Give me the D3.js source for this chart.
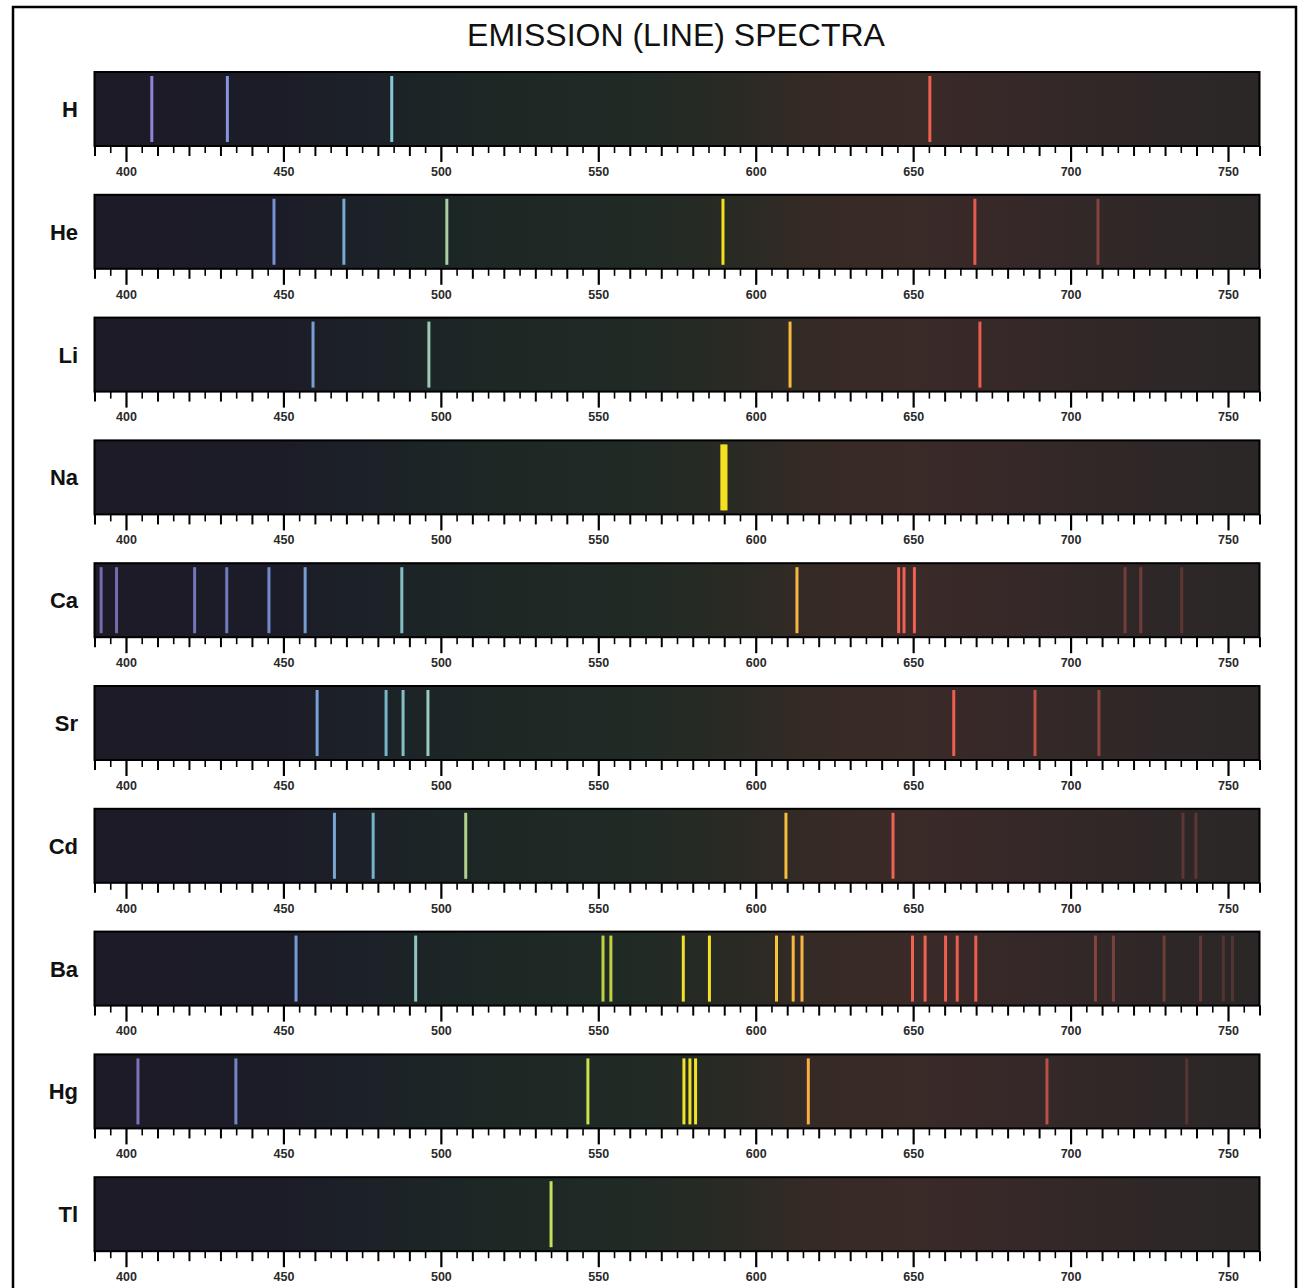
<!DOCTYPE html>
<html><head><meta charset="utf-8">
<script src="https://cdn.jsdelivr.net/npm/d3@7"></script>
<style>body{margin:0;background:#fff}</style>
</head><body><svg id="c" width="1299" height="1288"></svg>
<script>
// ---------- DATA ----------
const title = "EMISSION (LINE) SPECTRA";
const elements = ["H","He","Li","Na","Ca","Sr","Cd","Ba","Hg","Tl"];
const majorTicks = [400,450,500,550,600,650,700,750];
const domainNm = [390, 760];
// each line: [wavelength nm, relative brightness]
const H_lines  = [[408.2,1],[432.2,1],[484.4,1],[655.3,1]];
const He_lines = [[447.0,0.9],[469.2,0.9],[501.9,0.9],[589.6,1],[669.6,0.95],[708.7,0.55]];
const Li_lines = [[459.4,0.9],[496.2,0.9],[610.9,1],[671.2,1]];
const Na_lines = [[589.4,1],[590.4,1]];
const Ca_lines = [[392.1,0.8],[397.0,0.8],[421.8,0.8],[432.0,0.8],[445.4,0.85],[456.9,0.9],[487.6,0.9],
                  [613.1,1],[645.4,1],[647.1,1],[650.4,1],[717.3,0.45],[722.3,0.45],[735.3,0.35]];
const Sr_lines = [[460.7,0.9],[482.6,0.9],[488.0,0.9],[495.9,0.9],[662.9,1],[688.7,0.8],[709.0,0.6]];
const Cd_lines = [[466.2,0.9],[478.5,0.9],[507.9,0.9],[609.6,1],[643.6,1],[735.7,0.35],[739.8,0.35]];
const Ba_lines = [[454.0,0.9],[492.0,0.9],[551.5,0.9],[554.0,0.9],[577.0,1],[585.3,1],[606.6,1],[611.9,1],[614.7,1],
                  [649.8,1],[653.8,1],[660.3,1],[664.0,1],[669.9,1],[707.9,0.55],[713.6,0.5],[729.7,0.45],
                  [741.3,0.4],[748.5,0.3],[751.4,0.3]];
const Hg_lines = [[403.8,0.85],[434.9,0.85],[546.7,1],[577.2,1],[579.1,1],[580.9,1],[616.7,1],[692.5,0.8],[736.9,0.3]];
const Tl_lines = [[535.0,1]];
const spectra = [H_lines,He_lines,Li_lines,Na_lines,Ca_lines,Sr_lines,Cd_lines,Ba_lines,Hg_lines,Tl_lines];

// background tint of the photographic strip, by wavelength
const bgStops  = [390,450,480,520,560,595,620,650,690,730,760];
const bgColors = ["#1c1b27","#1c1c28","#1c2227","#1d2825","#202a25","#2a2a24","#362a26","#3a2a28","#352828","#2e2727","#2b2727"];

// ---------- DRAW ----------
const svg = d3.select("#c");
const W = 1299, H = 1288;
const x = d3.scaleLinear().domain(domainNm).range([94.5, 1259.5]);
const rowTop = i => 72 + i*122.8;
const bandH = 74;

// wavelength -> line colour
const lineColor = d3.scaleLinear()
  .domain([400,425,445,465,482,495,505,540,560,575,590,605,620,640,680,720,760])
  .range(["#9080d0","#8a8ee0","#7f9ee6","#84b4ea","#7ec6dc","#a8dcd0","#c4e4a0","#c8e050","#d8e440","#f0e42a","#f4e020","#f8c838","#f8a848","#f06452","#ec5a4c","#c05a50","#a85048"])
  .clamp(true);

const defs = svg.append("defs");
const grad = defs.append("linearGradient").attr("id","bg").attr("x1","0").attr("x2","1").attr("y1","0").attr("y2","0");
bgStops.forEach((s,k)=>{
  grad.append("stop").attr("offset",(x(s)-x(domainNm[0]))/(x(domainNm[1])-x(domainNm[0])))
      .attr("stop-color",bgColors[k]);
});

svg.append("rect").attr("width",W).attr("height",H).attr("fill","#fff");
svg.append("rect").attr("x",13).attr("y",7).attr("width",1283).attr("height",1300)
   .attr("fill","none").attr("stroke","#000").attr("stroke-width",2.5);

svg.append("text").attr("x",676).attr("y",46).attr("text-anchor","middle")
   .attr("font-family","Liberation Sans, Arial, sans-serif").attr("font-size",32)
   .attr("fill","#111").text(title);

elements.forEach((el,i)=>{
  const top = rowTop(i);
  const g = svg.append("g");
  g.append("rect").attr("x",x(domainNm[0])).attr("y",top)
   .attr("width",x(domainNm[1])-x(domainNm[0])).attr("height",bandH)
   .attr("fill","url(#bg)").attr("stroke","#000").attr("stroke-width",2);

  g.selectAll("line.sp").data(spectra[i]).join("line")
   .attr("class","sp")
   .attr("x1",d=>x(d[0])).attr("x2",d=>x(d[0]))
   .attr("y1",top+4).attr("y2",top+bandH-4)
   .attr("stroke",d=>lineColor(d[0]))
   .attr("stroke-opacity",d=>d[1])
   .attr("stroke-width",el==="Na"?4:3);

  g.append("text").attr("x",78).attr("y",top+bandH/2).attr("dy","0.36em")
   .attr("text-anchor","end").attr("font-family","Liberation Sans, Arial, sans-serif")
   .attr("font-weight","bold").attr("font-size",22).attr("fill","#111").text(el);

  const ay = top + bandH;
  const small = d3.range(395, 760, 10);
  const medium = d3.range(390, 761, 10).filter(v=>v%50!==0);
  const mk = (vals,size,pad,labels,sw)=>{
    const ax = d3.axisBottom(x).tickValues(vals).tickSize(size).tickPadding(pad)
      .tickSizeOuter(0).tickFormat(labels?d3.format("d"):"");
    const a = g.append("g").attr("transform",`translate(0,${ay})`).call(ax);
    a.select(".domain").remove();
    a.selectAll(".tick line").attr("stroke","#000").attr("stroke-width",sw);
    a.selectAll(".tick text").attr("font-family","Liberation Sans, Arial, sans-serif")
      .attr("font-weight","bold").attr("font-size",12.5).attr("fill","#2a2a2a");
  };
  mk(small,7,0,false,1.6);
  mk(medium,10,0,false,2);
  mk(majorTicks,16,5,true,2.2);
});
</script>
</body></html>
